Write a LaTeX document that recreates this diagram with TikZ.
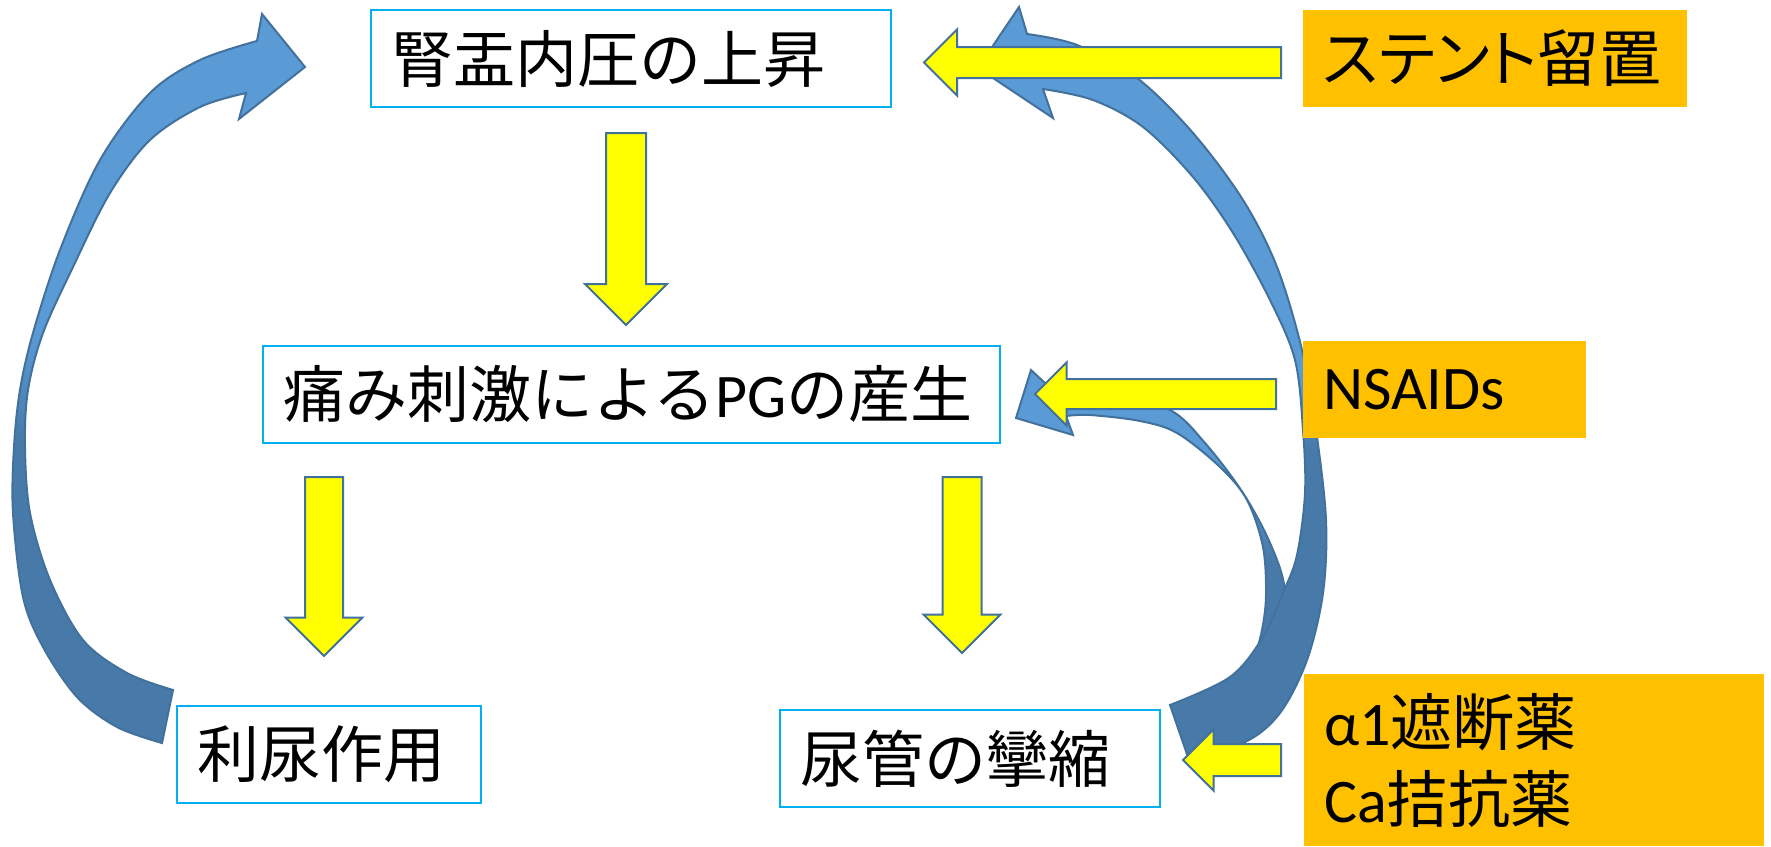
\documentclass[tikz,border=0pt]{standalone}
\usepackage{fontspec}
\setmainfont{Carlito}
\newfontfamily\jp{Noto Sans CJK JP}
\newfontfamily\jpp[RawFeature={+palt}]{Noto Sans CJK JP}
\usetikzlibrary{calc}
\definecolor{lightb}{RGB}{91,155,213}
\definecolor{darkb}{RGB}{72,122,169}
\definecolor{edgeb}{RGB}{65,113,156}
\definecolor{yel}{RGB}{255,255,0}
\definecolor{orng}{RGB}{255,192,0}
\definecolor{boxb}{RGB}{0,176,240}
\newcommand\bluearrow[3]{%
  \begin{scope}
    \clip #1;
    \fill[lightb] (0,0) rectangle (1771,846);
    \shade[top color=lightb, bottom color=darkb] (0,#2) rectangle (1771,#3);
    \fill[darkb] (0,#3) rectangle (1771,846);
  \end{scope}
  \path[bedge] #1;}
\newcommand\ydown[4]{\path[yarr] let \p1=(#1), \p2=(#2) in
  (\x1-#3,\y1) -- (\x1+#3,\y1) -- (\x1+#3,\y2+#4) -- (\x1+#4,\y2+#4) -- (\x2,\y2)
  -- (\x1-#4,\y2+#4) -- (\x1-#3,\y2+#4) -- cycle;}
\newcommand\yleft[4]{\path[yarr] let \p1=(#1), \p2=(#2) in
  (\x1,\y1+#3) -- (\x1,\y1-#3) -- (\x2+#4,\y1-#3) -- (\x2+#4,\y1-#4) -- (\x2,\y2)
  -- (\x2+#4,\y1+#4) -- (\x2+#4,\y1+#3) -- cycle;}
\begin{document}
\begin{tikzpicture}[x=1pt,y=-1pt,
  wbox/.style={draw=boxb, line width=2pt, fill=white, anchor=north west, outer sep=0pt,
    inner xsep=20pt, inner ysep=0pt, align=left, font=\fontsize{62}{77}\selectfont},
  obox/.style={fill=orng, anchor=north west, outer sep=0pt,
    inner xsep=20pt, inner ysep=0pt, align=left, font=\fontsize{62}{77}\selectfont},
  yarr/.style={fill=yel, draw=edgeb, line width=2pt, line join=miter},
  bedge/.style={draw=edgeb, line width=2pt, line join=miter}]
\useasboundingbox (0,0) rectangle (1771,846);
\fill[white] (0,0) rectangle (1771,846);

% blue curved arrows
\def\leftpath{(305,67) -- (239,119) -- (246,93) -- plot[smooth,tension=0.55] coordinates {(246,93) (200,107) (150,140) (110,193) (73,267) (43,333) (28,390) (25,447) (30,513) (50,580) (83,640) (127,673) (173,690)} -- (162,743) -- plot[smooth,tension=0.55] coordinates {(162,743) (117,727) (77,697) (43,647) (23,597) (13,513) (14,447) (20,390) (33,333) (60,250) (100,160) (150,93) (200,60) (257,41)} -- (262,14) -- cycle}
\bluearrow{\leftpath}{330}{440}

\def\smallpath{(1016,418) -- (1031,370) -- (1046,384) -- plot[smooth,tension=0.55] coordinates {(1046,384) (1110,393) (1170,410) (1205,443) (1243,493) (1270,543) (1285,590) (1286,660)} -- (1252,668) -- plot[smooth,tension=0.55] coordinates {(1252,668) (1262,630) (1266,595) (1263,547) (1247,500) (1220,467) (1177,433) (1140,421) (1090,415) (1066,416)} -- (1073,435) -- cycle}
\bluearrow{\smallpath}{470}{560}

\def\bigpath{(978,68) -- (1019,7) -- (1027,34) -- plot[smooth,tension=0.55] coordinates {(1027,34) (1077,45) (1137,78) (1193,133) (1243,200) (1277,267) (1302,350) (1316,430) (1326,520) (1323,593) (1307,660) (1280,713) (1245,742) (1188,757)} -- (1170,705) -- plot[smooth,tension=0.55] coordinates {(1170,705) (1230,677) (1263,637) (1283,593) (1297,555) (1305,493) (1303,430) (1295,360) (1270,300) (1233,233) (1193,177) (1143,127) (1093,100) (1043,89)} -- (1053,118) -- cycle}
\bluearrow{\bigpath}{380}{450}

% boxes
\node[wbox, minimum width=520pt, minimum height=97pt, text width=480pt] (b1) at (371,10) {{\jp 腎盂内圧の上昇}};
\node[wbox, minimum width=737pt, minimum height=97pt, text width=697pt] (b2) at (263,346) {{\jp 痛み刺激による}PG{\jp の産生}};
\node[wbox, minimum width=304pt, minimum height=97pt, text width=264pt] (b3) at (177,706) {{\jp 利尿作用}};
\node[wbox, minimum width=380pt, minimum height=97pt, text width=340pt] (b4) at (780,710) {{\jp 尿管の攣縮}};
\node[obox, minimum width=384pt, minimum height=97pt, text width=344pt] (o1) at (1303,10) {{\jpp ステント}{\jp 留置}};
\node[obox, minimum width=283pt, minimum height=97pt, text width=243pt] (o2) at (1303,341) {NSAIDs};
\node[obox, minimum width=460pt, minimum height=172pt, text width=420pt] (o3) at (1304,674) {α1{\jp 遮断薬}\\Ca{\jp 拮抗薬}};

% yellow block arrows
\coordinate (d1s) at (626,133); \coordinate (d1e) at (626,325);
\coordinate (d2s) at (324,477); \coordinate (d2e) at (324,656);
\coordinate (d3s) at (962,477); \coordinate (d3e) at (962,653);
\coordinate (l1s) at (1281,62.5); \coordinate (l1e) at (924,62.5);
\coordinate (l2s) at (1276,394); \coordinate (l2e) at (1035,394);
\coordinate (l3s) at (1281,760); \coordinate (l3e) at (1183,760);
\ydown{d1s}{d1e}{20pt}{41pt}
\ydown{d2s}{d2e}{19pt}{38.5pt}
\ydown{d3s}{d3e}{19.5pt}{38.5pt}
\yleft{l1s}{l1e}{15.5pt}{33pt}
\yleft{l2s}{l2e}{15pt}{31.5pt}
\yleft{l3s}{l3e}{16pt}{30.5pt}
\end{tikzpicture}
\end{document}
